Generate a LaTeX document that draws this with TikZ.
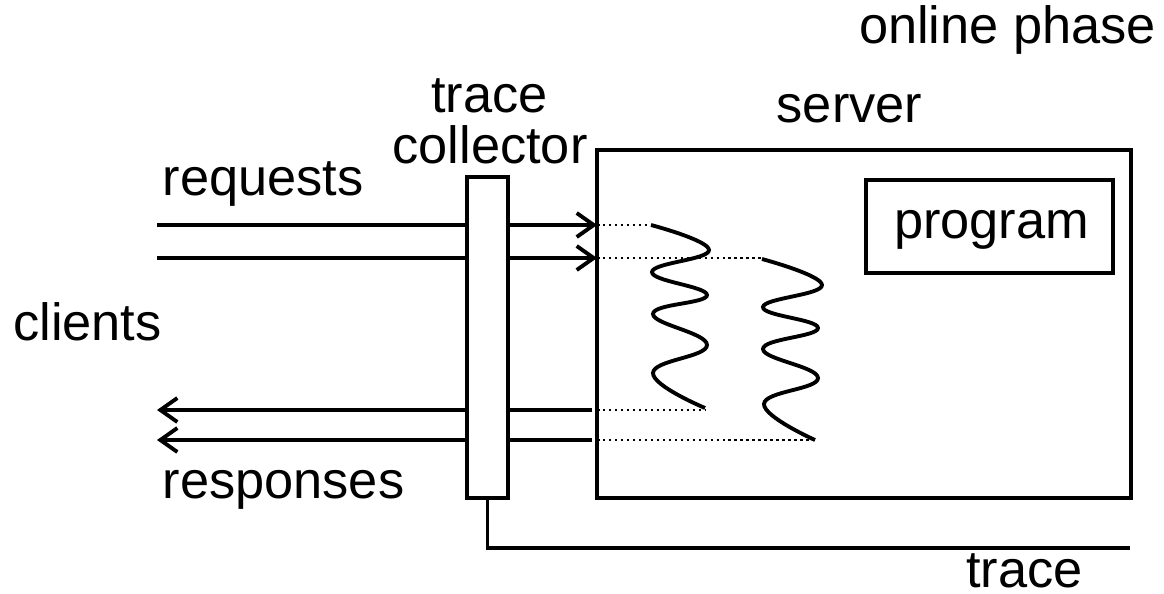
\documentclass[tikz,border=0pt]{standalone}
\usepackage{fontspec}
\setmainfont{Liberation Sans}
\usetikzlibrary{arrows.meta}

\begin{document}
\begin{tikzpicture}[x=0.02cm,y=-0.02cm,
    lbl/.style={font=\fontsize{29.8}{35}\selectfont, inner sep=0pt, anchor=base},
    box/.style={draw, line width=1.8pt, inner sep=0pt, outer sep=0pt},
    flow/.style={line width=2.2pt, -{Straight Barb[length=0.34cm,width=0.48cm,line width=2.2pt]}},
    wave/.style={line width=2.2pt, smooth, tension=0.75},
    link/.style={line width=1.4pt, dotted}]
  \useasboundingbox (0,0) rectangle (1164,593);
  % boxes
  \node[box, minimum width=10.68cm, minimum height=6.96cm] (srv) at (864,324) {};
  \node[box, minimum width=4.94cm, minimum height=1.86cm] (prog) at (989.5,226.5) {};
  \node[lbl] (proglbl) at (991.5,238) {program};
  % free ends on the client side
  \coordinate (rq1) at (157,225);
  \coordinate (rq2) at (157,258);
  \coordinate (rs1) at (157,410);
  \coordinate (rs2) at (157,440);
  % requests and responses
  \draw[flow] (rq1) -- (rq1 -| srv.west);
  \draw[flow] (rq2) -- (rq2 -| srv.west);
  \draw[flow] ([xshift=-0.1cm]rs1 -| srv.west) -- (rs1);
  \draw[flow] ([xshift=-0.1cm]rs2 -| srv.west) -- (rs2);
  % collector sits on top of the lines
  \node[box, fill=white, minimum width=0.82cm, minimum height=6.42cm] (col) at (487.5,337.5) {};
  % trace output
  \coordinate (tr) at (1130,548);
  \draw[line width=1.8pt] (col.south) |- (tr);
  % worker threads
  \draw[wave] plot coordinates {(651,225) (709,250) (652,272) (707,295) (653,314) (707,345) (653,373) (705,408)};
  \draw[wave] plot coordinates {(762,259) (822,285) (763,307) (818,328) (763,349) (818,378) (764,404) (815,440)};
  % dotted joins
  \draw[link] (rq1 -| srv.west) -- (650,225);
  \draw[link] (rq2 -| srv.west) -- (762,258);
  \draw[link] (rs1 -| srv.west) -- (705,410);
  \draw[link] (rs2 -| srv.west) -- (815,440);
  % labels
  \node[lbl] (phase) at (1007.5,43) {online phase};
  \node[lbl] (srvlbl) at (849.5,122) {server};
  \node[lbl] (colt) at (489.5,112) {trace};
  \node[lbl] (colb) at (490,163) {collector};
  \node[lbl] (reqlbl) at (263,195) {requests};
  \node[lbl] (clilbl) at (87.5,340) {clients};
  \node[lbl] (reslbl) at (283.5,498) {responses};
  \node[lbl] (trlbl) at (1024.5,587) {trace};
\end{tikzpicture}
\end{document}
